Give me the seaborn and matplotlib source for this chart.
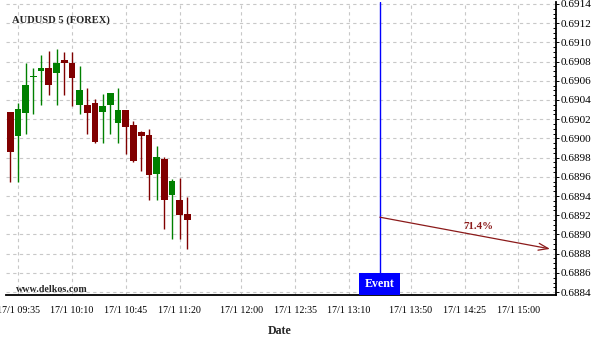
import numpy as np
import pandas as pd
import matplotlib
matplotlib.use("Agg")
import matplotlib.pyplot as plt
import seaborn as sns
from matplotlib.ticker import FixedLocator, MultipleLocator, FormatStrFormatter

# ---------------- data ----------------
times = ["09:30", "09:35", "09:40", "09:45", "09:50", "09:55", "10:00", "10:05",
         "10:10", "10:15", "10:20", "10:25", "10:30", "10:35", "10:40", "10:45",
         "10:50", "10:55", "11:00", "11:05", "11:10", "11:15", "11:20", "11:25"]
opens = [0.69028, 0.69002, 0.69026, 0.69064, 0.69070, 0.69073, 0.69068, 0.69082,
         0.69079, 0.69035, 0.69035, 0.69037, 0.69027, 0.69035, 0.69016, 0.69030,
         0.69014, 0.69007, 0.69004, 0.68963, 0.68979, 0.68941, 0.68936, 0.68921]
highs = [0.69028, 0.69037, 0.69079, 0.69073, 0.69087, 0.69091, 0.69093, 0.69090,
         0.69090, 0.69075, 0.69052, 0.69041, 0.69046, 0.69047, 0.69052, 0.69030,
         0.69018, 0.69008, 0.69010, 0.68992, 0.68981, 0.68958, 0.68959, 0.68939]
lows = [0.68955, 0.68955, 0.69005, 0.69025, 0.69035, 0.69045, 0.69035, 0.69045,
        0.69034, 0.69025, 0.69005, 0.68995, 0.68995, 0.69005, 0.68995, 0.68984,
        0.68975, 0.68966, 0.68936, 0.68936, 0.68906, 0.68895, 0.68895, 0.68885]
closes = [0.68986, 0.69031, 0.69056, 0.69065, 0.69073, 0.69056, 0.69079, 0.69079,
          0.69063, 0.69050, 0.69026, 0.68996, 0.69034, 0.69047, 0.69030, 0.69012,
          0.68976, 0.69003, 0.68962, 0.68981, 0.68936, 0.68956, 0.68920, 0.68915]

tick_times = ["09:35", "10:10", "10:45", "11:20", "12:00", "12:35",
              "13:10", "13:50", "14:25", "15:00"]
tick_labels = ["17/1 " + t for t in tick_times]

event_time = "13:30"
forecast_start_price = 0.68918
forecast_end_price = 0.68885
forecast_end_minute = 350.5
forecast_label = "71.4%"
forecast_label_minute = 303.7
forecast_label_price = 0.68908

title = "AUDUSD 5 (FOREX)"
watermark = "www.delkos.com"


def to_min(s):
    h, m = s.split(":")
    return (int(h) - 9) * 60 + int(m) - 30


df = pd.DataFrame({"t": [to_min(t) for t in times], "open": opens,
                   "high": highs, "low": lows, "close": closes})
df["up"] = df["close"] >= df["open"]

# ---------------- style ----------------
sns.set_style("white")
plt.rcParams["font.family"] = ["Liberation Serif", "DejaVu Serif"]

RED = "#800000"
GREEN = "#008000"
ARROW = "#8b1a1a"

fig = plt.figure(figsize=(6, 3.4), dpi=100)
ax = fig.add_axes([6 / 600, 45 / 340, 549.7 / 600, 293 / 340])

colors = np.where(df["up"], GREEN, RED)
body_bottom = np.minimum(df["open"], df["close"])
body_h = np.maximum(np.abs(df["close"] - df["open"]), 0.000012)

ax.vlines(df["t"], df["low"], df["high"], colors=colors, linewidth=1.0, zorder=3)
ax.bar(df["t"], body_h, bottom=body_bottom, width=4.3, color=colors,
       linewidth=0, zorder=4)

ax.set_xlim(-2.8, 354.2)
ax.set_ylim(0.68837, 0.69142)

# ticks
major_x = [to_min(t) for t in tick_times]
minor_x = []
for a, b in zip(major_x[:-1], major_x[1:]):
    minor_x += list(np.linspace(a, b, 5)[1:-1])
step_last = (major_x[-1] - major_x[-2]) / 4
k = 1
while major_x[-1] + k * step_last < 354:
    minor_x.append(major_x[-1] + k * step_last)
    k += 1
ax.xaxis.set_major_locator(FixedLocator(major_x))
ax.xaxis.set_minor_locator(FixedLocator(minor_x))
ax.set_xticklabels(tick_labels)
ax.tick_params(axis="x", which="both", direction="out", length=2.5, width=0.7,
               labelsize=7.2, pad=5.5, colors="black")

ax.yaxis.tick_right()
ax.yaxis.set_major_locator(MultipleLocator(0.0002))
ax.yaxis.set_minor_locator(MultipleLocator(0.00005))
ax.yaxis.set_major_formatter(FormatStrFormatter("%.4f"))
ax.tick_params(axis="y", which="major", direction="out", length=2.5, width=0.7,
               labelsize=8.1, pad=1.2, colors="black")
ax.tick_params(axis="y", which="minor", direction="in", length=2, width=0.7,
               colors="black")

ax.grid(True, which="major", linestyle=(0, (3, 3)), color="#c8c8c8",
        linewidth=0.8, zorder=0)
ax.set_axisbelow(True)

for s in ["left", "top"]:
    ax.spines[s].set_visible(False)
for s in ["right", "bottom"]:
    ax.spines[s].set_color("black")
    ax.spines[s].set_linewidth(1.3)

# event marker
ev = to_min(event_time)
ax.axvline(ev, color="#0000ff", linewidth=1.0, zorder=5)
ax.axvspan(ev - 13.5, ev + 13.3, ymin=0, ymax=22.5 / 293, color="#0000ff",
           linewidth=0, zorder=6)
ax.text(ev, 0.68837 + (0.69142 - 0.68837) * (11 / 293), "Event", color="white",
        fontsize=8.6, fontweight="bold", ha="center", va="center", zorder=7)

# forecast arrow
ax.annotate("", xy=(forecast_end_minute, forecast_end_price),
            xytext=(ev, forecast_start_price),
            arrowprops=dict(arrowstyle="->,head_length=0.7,head_width=0.25",
                            color=ARROW, linewidth=0.9, shrinkA=0, shrinkB=0),
            zorder=6)
ax.text(forecast_label_minute, forecast_label_price, forecast_label, color=ARROW,
        fontsize=7.8, fontweight="bold", ha="center", va="center", zorder=7)

# texts
fig.text(12 / 600, 1 - 20 / 340, title, fontsize=7.6, fontweight="bold",
         ha="left", va="center")
fig.text(16 / 600, 1 - 289 / 340, watermark, fontsize=7.2, fontweight="bold",
         ha="left", va="center")
fig.text(280 / 600, 1 - 330.5 / 340, "Date", fontsize=8.6, fontweight="bold",
         ha="center", va="center")

fig.savefig("out.png", dpi=100)
